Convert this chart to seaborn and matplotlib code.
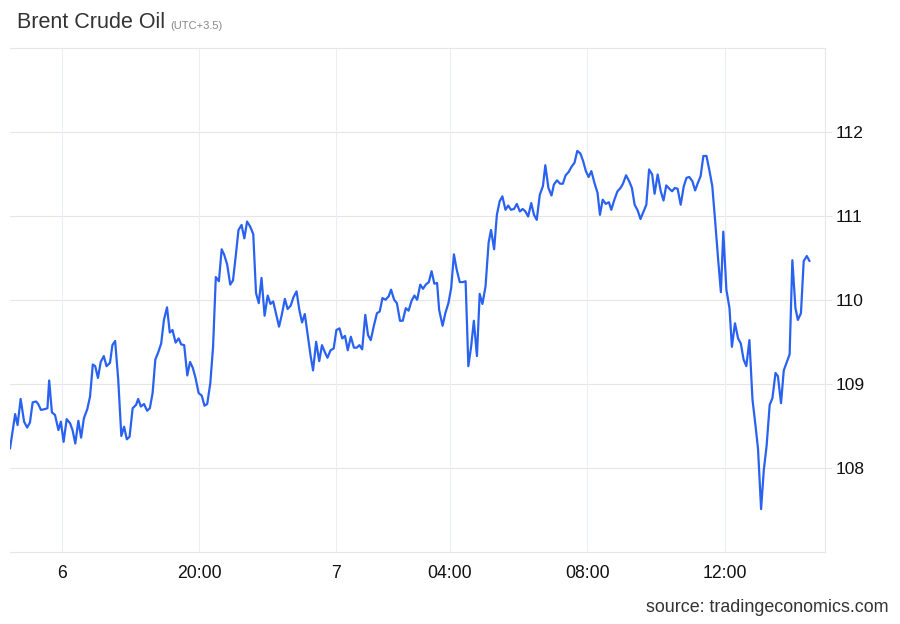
import matplotlib
matplotlib.use("Agg")
import matplotlib.pyplot as plt
import seaborn as sns
import pandas as pd

# ---- data (hours from start of window, on the chart's ordinal time axis) ----
hours = [
    0.00, 0.15, 0.22, 0.31, 0.41, 0.50, 0.58, 0.66, 0.76, 0.82, 0.90, 1.02, 1.09, 1.14, 1.22, 1.31,
    1.41, 1.48, 1.56, 1.65, 1.75, 1.82, 1.90, 1.99, 2.07, 2.15, 2.25, 2.33, 2.41, 2.48, 2.56, 2.64,
    2.73, 2.81, 2.91, 2.98, 3.06, 3.15, 3.24, 3.32, 3.40, 3.48, 3.57, 3.67, 3.73, 3.81, 3.90, 3.99,
    4.07, 4.15, 4.23, 4.31, 4.40, 4.48, 4.57, 4.65, 4.73, 4.82, 4.91, 4.98, 5.07, 5.16, 5.24, 5.32,
    5.40, 5.49, 5.58, 5.66, 5.74, 5.83, 5.91, 5.99, 6.08, 6.16, 6.23, 6.32, 6.41, 6.49, 6.57, 6.65,
    6.74, 6.82, 6.90, 6.99, 7.08, 7.16, 7.24, 7.32, 7.41, 7.50, 7.58, 7.66, 7.74, 7.83, 7.91, 8.00,
    8.08, 8.17, 8.25, 8.34, 8.42, 8.50, 8.58, 8.68, 8.75, 8.82, 8.91, 9.00, 9.08, 9.16, 9.24, 9.33,
    9.42, 9.50, 9.59, 9.67, 9.75, 9.83, 9.92, 10.01, 10.09, 10.17, 10.25, 10.34, 10.42, 10.50, 10.59,
    10.68, 10.76, 10.84, 10.93, 11.02, 11.09, 11.18, 11.26, 11.35, 11.43, 11.52, 11.60, 11.69, 11.77,
    11.85, 11.94, 12.02, 12.10, 12.19, 12.27, 12.35, 12.43, 12.49, 12.59, 12.67, 12.76, 12.84, 12.92,
    13.00, 13.09, 13.18, 13.26, 13.34, 13.42, 13.50, 13.59, 13.67, 13.75, 13.84, 13.93, 14.00, 14.09,
    14.17, 14.25, 14.33, 14.42, 14.50, 14.58, 14.67, 14.75, 14.84, 14.92, 15.00, 15.08, 15.17, 15.25,
    15.33, 15.42, 15.51, 15.58, 15.67, 15.76, 15.83, 15.92, 16.01, 16.09, 16.17, 16.26, 16.34, 16.43,
    16.51, 16.60, 16.68, 16.76, 16.84, 16.92, 17.01, 17.10, 17.17, 17.25, 17.34, 17.43, 17.50, 17.59,
    17.68, 17.77, 17.84, 17.93, 18.02, 18.10, 18.18, 18.27, 18.35, 18.43, 18.52, 18.60, 18.69, 18.76,
    18.85, 18.94, 19.02, 19.10, 19.19, 19.27, 19.35, 19.43, 19.52, 19.61, 19.69, 19.77, 19.86, 19.94,
    20.02, 20.10, 20.18, 20.27, 20.35, 20.44, 20.52, 20.61, 20.69, 20.76, 20.85, 20.94, 21.01, 21.10,
    21.19, 21.27, 21.35, 21.43, 21.52, 21.61, 21.69, 21.77, 21.86, 21.94, 22.02, 22.11, 22.19, 22.28,
    22.35, 22.44, 22.52, 22.60, 22.69, 22.77, 22.86, 22.93, 23.02, 23.10, 23.19, 23.27,
]

prices = [
    108.23, 108.64, 108.51, 108.82, 108.55, 108.48, 108.54, 108.78, 108.79, 108.76, 108.69, 108.70,
    108.71, 109.04, 108.66, 108.63, 108.45, 108.55, 108.31, 108.58, 108.53, 108.45, 108.29, 108.56,
    108.36, 108.59, 108.70, 108.85, 109.23, 109.21, 109.07, 109.26, 109.33, 109.21, 109.25, 109.46,
    109.51, 109.05, 108.38, 108.49, 108.34, 108.37, 108.71, 108.75, 108.82, 108.73, 108.76, 108.68,
    108.71, 108.89, 109.29, 109.37, 109.48, 109.76, 109.91, 109.61, 109.64, 109.49, 109.54, 109.47,
    109.46, 109.10, 109.26, 109.19, 109.07, 108.89, 108.86, 108.74, 108.76, 109.01, 109.44, 110.27,
    110.22, 110.60, 110.54, 110.42, 110.18, 110.23, 110.52, 110.83, 110.89, 110.73, 110.93, 110.87,
    110.78, 110.08, 109.96, 110.26, 109.81, 110.05, 109.95, 109.98, 109.84, 109.68, 109.82, 110.01,
    109.89, 109.93, 110.03, 110.10, 109.88, 109.73, 109.83, 109.54, 109.33, 109.16, 109.50, 109.27,
    109.46, 109.38, 109.31, 109.40, 109.42, 109.64, 109.66, 109.54, 109.57, 109.40, 109.56, 109.43,
    109.43, 109.46, 109.41, 109.82, 109.58, 109.52, 109.69, 109.84, 109.86, 110.02, 110.00, 110.04,
    110.12, 110.00, 109.96, 109.75, 109.75, 109.90, 109.87, 109.99, 110.05, 110.00, 110.18, 110.13,
    110.18, 110.21, 110.34, 110.19, 110.20, 109.88, 109.69, 109.84, 109.96, 110.14, 110.54, 110.36,
    110.21, 110.21, 110.22, 109.21, 109.44, 109.75, 109.33, 110.07, 109.95, 110.16, 110.68, 110.83,
    110.60, 111.01, 111.17, 111.23, 111.07, 111.12, 111.07, 111.08, 111.14, 111.05, 111.08, 111.05,
    110.99, 111.15, 111.01, 110.95, 111.25, 111.35, 111.60, 111.33, 111.24, 111.37, 111.42, 111.38,
    111.38, 111.48, 111.52, 111.58, 111.63, 111.77, 111.74, 111.65, 111.53, 111.46, 111.53, 111.39,
    111.27, 111.01, 111.19, 111.14, 111.16, 111.07, 111.19, 111.29, 111.33, 111.38, 111.48, 111.41,
    111.33, 111.13, 111.06, 110.96, 111.04, 111.13, 111.55, 111.49, 111.26, 111.49, 111.29, 111.18,
    111.36, 111.32, 111.29, 111.33, 111.32, 111.13, 111.35, 111.45, 111.46, 111.41, 111.30, 111.39,
    111.47, 111.71, 111.71, 111.55, 111.35, 110.95, 110.48, 110.09, 110.81, 110.12, 109.90, 109.44,
    109.72, 109.54, 109.48, 109.29, 109.21, 109.52, 108.81, 108.53, 108.23, 107.51, 107.98, 108.26,
    108.75, 108.83, 109.13, 109.09, 108.77, 109.16, 109.25, 109.35, 110.47, 109.90, 109.76, 109.84,
    110.46, 110.52, 110.46,
]

x_tick_positions = [1.5, 5.5, 9.5, 12.8, 16.8, 20.8]
x_tick_labels = ["6", "20:00", "7", "04:00", "08:00", "12:00"]
y_ticks = [108, 109, 110, 111, 112]

title_text = "Brent Crude Oil"
subtitle_text = "(UTC+3.5)"
source_text = "source: tradingeconomics.com"

# ---- styling ----
sns.set_theme(style="white")
plt.rcParams["font.family"] = ["Liberation Sans", "DejaVu Sans"]

LINE = "#2962f0"
GRID = "#e6e6e6"
VGRID = "#eceef3"

df = pd.DataFrame({"hours": hours, "price": prices})

fig = plt.figure(figsize=(9, 6.24), dpi=100)
ax = fig.add_axes([10 / 900, 1 - 552 / 624, (825 - 10) / 900, (552 - 47.5) / 624])

sns.lineplot(data=df, x="hours", y="price", ax=ax, color=LINE, linewidth=1.6,
             estimator=None, sort=False, zorder=3)

ax.set_xlim(0, 23.72)
ax.set_ylim(107.0, 113.0)
ax.set_xlabel("")
ax.set_ylabel("")

ax.set_xticks(x_tick_positions)
ax.set_xticklabels(x_tick_labels)
ax.set_yticks(y_ticks)
ax.set_yticklabels([str(v) for v in y_ticks])

ax.yaxis.tick_right()
ax.tick_params(axis="y", which="both", right=True, left=False, length=5, width=0.8,
               color=GRID, pad=3, labelsize=12.5, labelcolor="#111111")
ax.tick_params(axis="x", which="both", bottom=False, length=0, pad=9,
               labelsize=12.7, labelcolor="#111111")

ax.grid(False)
for y in y_ticks:
    ax.axhline(y, color=GRID, linewidth=0.8, zorder=1)
for xv in x_tick_positions:
    ax.axvline(xv, color=VGRID, linewidth=0.8, zorder=1)

ax.spines["left"].set_visible(False)
for side in ["top", "bottom", "right"]:
    ax.spines[side].set_visible(True)
    ax.spines[side].set_color(GRID)
    ax.spines[side].set_linewidth(0.8)

# ---- texts ----
t = fig.text(17 / 900, 1 - 22 / 624, title_text, fontsize=15.5, color="#333333",
             ha="left", va="center")
fig.canvas.draw()
bb = t.get_window_extent(renderer=fig.canvas.get_renderer())
fig.text((bb.x1 + 5) / fig.bbox.width, 1 - 26 / 624, subtitle_text, fontsize=8,
         color="#888888", ha="left", va="center")

fig.text(888 / 900, 1 - 608 / 624, source_text, fontsize=12.9, color="#333333",
         ha="right", va="center")

fig.savefig("out.png", dpi=100)
